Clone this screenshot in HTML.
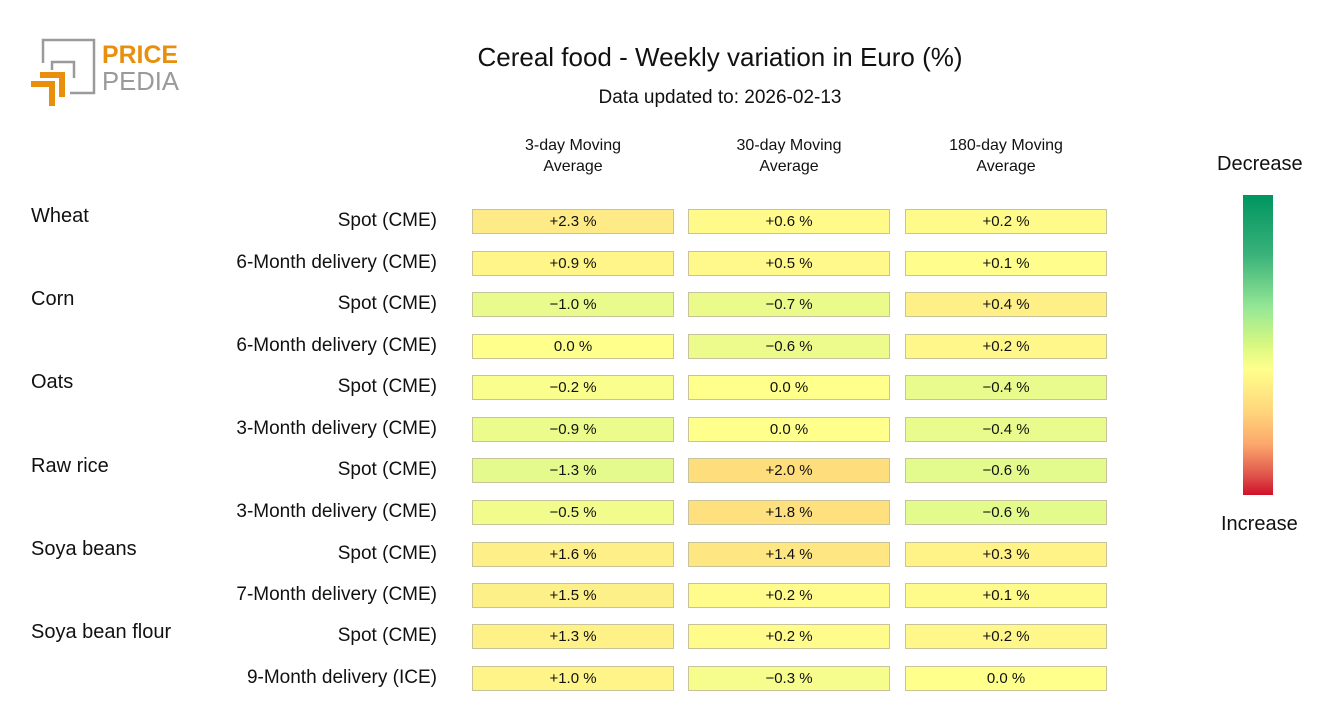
<!DOCTYPE html>
<html><head><meta charset="utf-8"><style>
body{margin:0;width:1320px;height:720px;background:#fff;font-family:"Liberation Sans",sans-serif;position:relative;overflow:hidden;color:#111}
.a{position:absolute;white-space:nowrap}
.c{position:absolute;width:200px;height:23px;border:1px solid #c8c39a;font-size:15px;text-align:center;line-height:23px}
.g{font-size:20px;left:31px}
.s{font-size:19px;right:883px;text-align:right}
.h{font-size:16px;text-align:center;width:200px;line-height:21px}
</style></head><body>
<svg class="a" style="left:0;top:0" width="200" height="115">
<path d="M43 63 V40 H94 V93 H70" fill="none" stroke="#9a9a9a" stroke-width="2.5"/>
<path d="M52 70 V62 H74 V78" fill="none" stroke="#9a9a9a" stroke-width="2.5"/>
<rect x="40" y="72" width="25" height="6" fill="#e8900e"/><rect x="59" y="72" width="6" height="25" fill="#e8900e"/>
<rect x="31" y="81" width="24" height="6" fill="#e8900e"/><rect x="49" y="81" width="6" height="25" fill="#e8900e"/>
<text x="102" y="63" font-family="Liberation Sans" font-weight="bold" font-size="25" fill="#e8900e" textLength="76" lengthAdjust="spacingAndGlyphs">PRICE</text>
<text x="102" y="90" font-family="Liberation Sans" font-size="26" fill="#9a9a9a" textLength="77" lengthAdjust="spacingAndGlyphs">PEDIA</text>
</svg>
<div class="a" style="left:0;width:1440px;text-align:center;top:42px;font-size:26px">Cereal food - Weekly variation in Euro (%)</div>
<div class="a" style="left:0;width:1440px;text-align:center;top:87px;font-size:19px">Data updated to: 2026-02-13</div>
<div class="a h" style="left:473px;top:135px">3-day Moving<br>Average</div>
<div class="a h" style="left:689px;top:135px">30-day Moving<br>Average</div>
<div class="a h" style="left:906px;top:135px">180-day Moving<br>Average</div>
<div class="a" style="left:1217px;top:153px;font-size:20px">Decrease</div>
<div class="a" style="left:1221px;top:513px;font-size:20px">Increase</div>
<div class="a" style="left:1243px;top:195px;width:30px;height:300px;background:linear-gradient(#009560,#3ab27a 20%,#98e896 38%,#d8f880 50%,#ffff8c 58%,#ffd67c 72%,#fca86c 83%,#e0584e 93%,#d0102a)"></div>

<div class="a g" style="top:205px">Wheat</div>
<div class="a g" style="top:288px">Corn</div>
<div class="a g" style="top:371px">Oats</div>
<div class="a g" style="top:455px">Raw rice</div>
<div class="a g" style="top:538px">Soya beans</div>
<div class="a g" style="top:621px">Soya bean flour</div>

<div class="a s" style="top:210px">Spot (CME)</div>
<div class="a s" style="top:252px">6-Month delivery (CME)</div>
<div class="a s" style="top:293px">Spot (CME)</div>
<div class="a s" style="top:335px">6-Month delivery (CME)</div>
<div class="a s" style="top:376px">Spot (CME)</div>
<div class="a s" style="top:418px">3-Month delivery (CME)</div>
<div class="a s" style="top:459px">Spot (CME)</div>
<div class="a s" style="top:501px">3-Month delivery (CME)</div>
<div class="a s" style="top:543px">Spot (CME)</div>
<div class="a s" style="top:584px">7-Month delivery (CME)</div>
<div class="a s" style="top:625px">Spot (CME)</div>
<div class="a s" style="top:667px">9-Month delivery (ICE)</div>

<div class="c" style="left:472px;top:209px;background:#feea86">+2.3 %</div>
<div class="c" style="left:472px;top:251px;background:#fff588">+0.9 %</div>
<div class="c" style="left:472px;top:292px;background:#e8fb8c">−1.0 %</div>
<div class="c" style="left:472px;top:334px;background:#ffff8c">0.0 %</div>
<div class="c" style="left:472px;top:375px;background:#fafe8c">−0.2 %</div>
<div class="c" style="left:472px;top:417px;background:#ebfb8c">−0.9 %</div>
<div class="c" style="left:472px;top:458px;background:#e4fa8c">−1.3 %</div>
<div class="c" style="left:472px;top:500px;background:#f2fc8c">−0.5 %</div>
<div class="c" style="left:472px;top:542px;background:#feef88">+1.6 %</div>
<div class="c" style="left:472px;top:583px;background:#fef088">+1.5 %</div>
<div class="c" style="left:472px;top:624px;background:#fef188">+1.3 %</div>
<div class="c" style="left:472px;top:666px;background:#fef488">+1.0 %</div>

<div class="c" style="left:688px;top:209px;background:#fffa8a">+0.6 %</div>
<div class="c" style="left:688px;top:251px;background:#fff88a">+0.5 %</div>
<div class="c" style="left:688px;top:292px;background:#eafb8c">−0.7 %</div>
<div class="c" style="left:688px;top:334px;background:#ecfb8c">−0.6 %</div>
<div class="c" style="left:688px;top:375px;background:#ffff8c">0.0 %</div>
<div class="c" style="left:688px;top:417px;background:#ffff8c">0.0 %</div>
<div class="c" style="left:688px;top:458px;background:#fede7c">+2.0 %</div>
<div class="c" style="left:688px;top:500px;background:#fee07e">+1.8 %</div>
<div class="c" style="left:688px;top:542px;background:#fee682">+1.4 %</div>
<div class="c" style="left:688px;top:583px;background:#fffc8c">+0.2 %</div>
<div class="c" style="left:688px;top:624px;background:#fffc8c">+0.2 %</div>
<div class="c" style="left:688px;top:666px;background:#f6fd8c">−0.3 %</div>

<div class="c" style="left:905px;top:209px;background:#fffb8a">+0.2 %</div>
<div class="c" style="left:905px;top:251px;background:#fffd8c">+0.1 %</div>
<div class="c" style="left:905px;top:292px;background:#feef86">+0.4 %</div>
<div class="c" style="left:905px;top:334px;background:#fff78a">+0.2 %</div>
<div class="c" style="left:905px;top:375px;background:#e9fb8c">−0.4 %</div>
<div class="c" style="left:905px;top:417px;background:#e9fb8c">−0.4 %</div>
<div class="c" style="left:905px;top:458px;background:#e2fb8c">−0.6 %</div>
<div class="c" style="left:905px;top:500px;background:#e2fb8c">−0.6 %</div>
<div class="c" style="left:905px;top:542px;background:#fff388">+0.3 %</div>
<div class="c" style="left:905px;top:583px;background:#fffb8a">+0.1 %</div>
<div class="c" style="left:905px;top:624px;background:#fff78a">+0.2 %</div>
<div class="c" style="left:905px;top:666px;background:#ffff8c">0.0 %</div>
</body></html>
